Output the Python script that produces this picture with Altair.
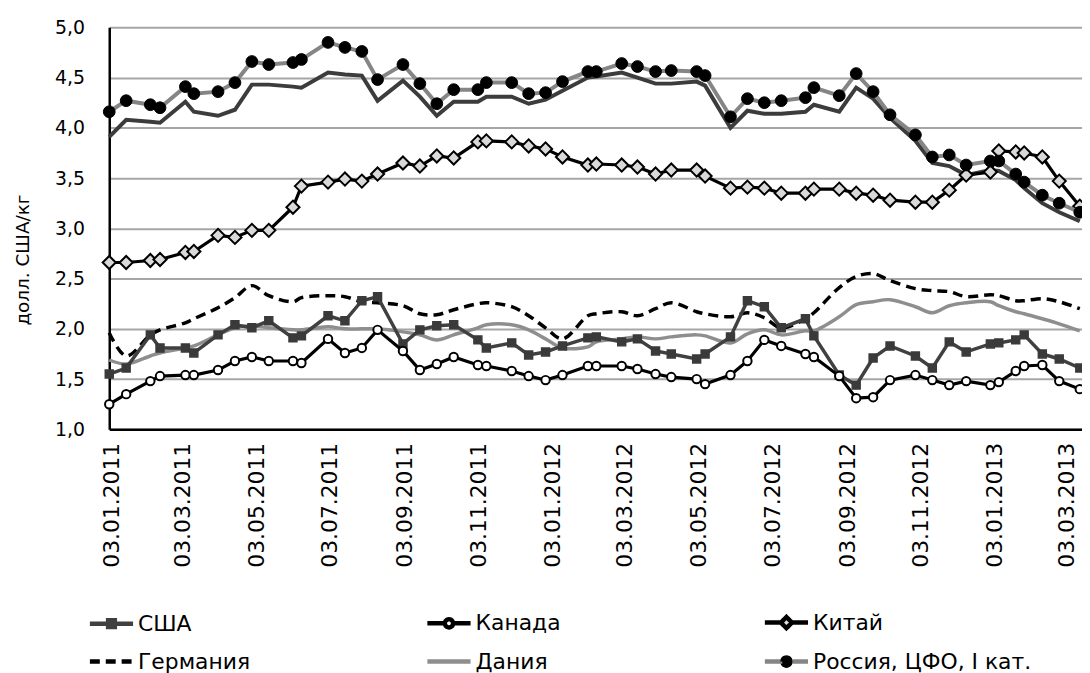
import altair as alt
import pandas as pd

# ---------------- data ----------------
dates = ["2011-01-03", "2011-01-17", "2011-02-06", "2011-02-14", "2011-03-07", "2011-03-14",
         "2011-04-03", "2011-04-17", "2011-05-01", "2011-05-15", "2011-06-04", "2011-06-11",
         "2011-07-03", "2011-07-17", "2011-07-31", "2011-08-13", "2011-09-03", "2011-09-17",
         "2011-10-01", "2011-10-15", "2011-11-04", "2011-11-11", "2011-12-02", "2011-12-16",
         "2011-12-30", "2012-01-13", "2012-02-03", "2012-02-10", "2012-03-02", "2012-03-15",
         "2012-03-30", "2012-04-12", "2012-05-03", "2012-05-10", "2012-05-31", "2012-06-14",
         "2012-06-28", "2012-07-12", "2012-08-01", "2012-08-08", "2012-08-29", "2012-09-12",
         "2012-09-26", "2012-10-10", "2012-10-31", "2012-11-14", "2012-11-28", "2012-12-12",
         "2013-01-01", "2013-01-08", "2013-01-22", "2013-01-29", "2013-02-13", "2013-02-27",
         "2013-03-16"]

usa = [1.55, 1.61, 1.94, 1.81, 1.81, 1.76, 1.94, 2.04, 2.01, 2.08, 1.91, 1.93, 2.13, 2.08, 2.28,
       2.32, 1.85, 1.99, 2.03, 2.04, 1.89, 1.81, 1.86, 1.74, 1.77, 1.83, 1.91, 1.92, 1.87, 1.90,
       1.78, 1.75, 1.70, 1.75, 1.92, 2.28, 2.22, 2.01, 2.10, 1.93, 1.54, 1.44, 1.71, 1.83, 1.73,
       1.61, 1.87, 1.77, 1.85, 1.86, 1.89, 1.94, 1.75, 1.70, 1.61]

canada = [1.25, 1.35, 1.48, 1.53, 1.54, 1.54, 1.59, 1.68, 1.72, 1.68, 1.68, 1.66, 1.90, 1.76, 1.81,
          1.99, 1.78, 1.59, 1.65, 1.72, 1.64, 1.63, 1.58, 1.53, 1.49, 1.54, 1.63, 1.63, 1.63, 1.60,
          1.55, 1.52, 1.50, 1.45, 1.54, 1.68, 1.89, 1.83, 1.75, 1.72, 1.53, 1.31, 1.32, 1.49, 1.54,
          1.49, 1.44, 1.48, 1.44, 1.47, 1.58, 1.63, 1.64, 1.48, 1.40]

china = [2.66, 2.66, 2.68, 2.69, 2.76, 2.77, 2.93, 2.91, 2.98, 2.98, 3.21, 3.42, 3.46, 3.49, 3.47,
         3.54, 3.65, 3.62, 3.72, 3.70, 3.86, 3.87, 3.86, 3.82, 3.79, 3.71, 3.63, 3.64, 3.63, 3.61,
         3.54, 3.58, 3.58, 3.52, 3.40, 3.41, 3.40, 3.35, 3.35, 3.39, 3.39, 3.35, 3.33, 3.28, 3.26,
         3.26, 3.38, 3.53, 3.56, 3.77, 3.76, 3.75, 3.71, 3.47, 3.22]

germany = [1.96, 1.73, 1.94, 1.99, 2.06, 2.10, 2.21, 2.31, 2.43, 2.33, 2.27, 2.31, 2.33, 2.32, 2.27,
           2.26, 2.23, 2.15, 2.14, 2.19, 2.25, 2.26, 2.22, 2.13, 2.01, 1.90, 2.13, 2.15, 2.17, 2.13,
           2.20, 2.26, 2.17, 2.15, 2.12, 2.16, 2.11, 2.01, 2.10, 2.16, 2.41, 2.52, 2.55, 2.48, 2.40,
           2.38, 2.37, 2.32, 2.34, 2.33, 2.28, 2.28, 2.30, 2.27, 2.20]

denmark = [1.69, 1.65, 1.73, 1.76, 1.81, 1.83, 1.94, 2.01, 2.03, 2.01, 1.99, 1.99, 2.02, 2.00, 2.00,
           2.00, 1.97, 1.94, 1.89, 1.94, 2.01, 2.04, 2.04, 1.99, 1.90, 1.81, 1.82, 1.87, 1.90, 1.92,
           1.90, 1.92, 1.94, 1.93, 1.86, 1.95, 1.99, 1.94, 1.98, 1.98, 2.12, 2.24, 2.27, 2.29, 2.22,
           2.16, 2.23, 2.26, 2.27, 2.23, 2.17, 2.15, 2.10, 2.05, 1.98]

russia_1 = [4.16, 4.27, 4.23, 4.20, 4.41, 4.34, 4.36, 4.45, 4.66, 4.63, 4.65, 4.68, 4.85, 4.80, 4.76,
            4.48, 4.63, 4.44, 4.24, 4.38, 4.38, 4.45, 4.45, 4.34, 4.35, 4.46, 4.56, 4.56, 4.64, 4.61,
            4.56, 4.57, 4.56, 4.52, 4.11, 4.29, 4.25, 4.27, 4.30, 4.40, 4.32, 4.54, 4.36, 4.13, 3.93,
            3.71, 3.73, 3.63, 3.67, 3.67, 3.54, 3.46, 3.33, 3.25, 3.16]

# dark line without markers (not named in the legend)
unlabeled = [3.91, 4.08, 4.06, 4.05, 4.26, 4.16, 4.12, 4.18, 4.43, 4.43, 4.41, 4.40, 4.55, 4.53, 4.52,
             4.27, 4.47, 4.31, 4.12, 4.26, 4.26, 4.31, 4.31, 4.24, 4.28, 4.37, 4.50, 4.51, 4.55, 4.50,
             4.44, 4.44, 4.46, 4.42, 4.00, 4.17, 4.14, 4.14, 4.16, 4.23, 4.16, 4.40, 4.29, 4.10, 3.87,
             3.65, 3.62, 3.53, 3.58, 3.57, 3.48, 3.40, 3.25, 3.16, 3.07]

names = ["США", "Канада", "Китай", "Германия", "Дания", "Россия, ЦФО, I кат."]
unlabeled_name = "без подписи"
y_ticks = [1.0, 1.5, 2.0, 2.5, 3.0, 3.5, 4.0, 4.5, 5.0]
x_tick_months = [(2011, 1), (2011, 3), (2011, 5), (2011, 7), (2011, 9), (2011, 11),
                 (2012, 1), (2012, 3), (2012, 5), (2012, 7), (2012, 9), (2012, 11),
                 (2013, 1), (2013, 3)]

# ---------------- styles ----------------
line_colors = ["#404040", "#000000", "#000000", "#000000", "#8e8e8e", "#858585"]
marker_fills = ["#404040", "#ffffff", "#e0e0e0", "transparent", "transparent", "#000000"]
# legend symbol = line + marker (unit = 7.5 px); the last dash leaves a gap around the dot
legend_shapes = [
    "M-1,0L4.8,0M1.45,-0.45L2.35,-0.45L2.35,0.45L1.45,0.45Z",
    "M-1,0L1.35,0M2.45,0L4.8,0M2.45,0A0.55,0.55,0,1,1,1.35,0A0.55,0.55,0,1,1,2.45,0Z",
    "M-1,0L1.15,0M2.65,0L4.8,0M1.9,-0.75L2.65,0L1.9,0.75L1.15,0Z",
    "M-1,0L4.8,0",
    "M-1,0L4.8,0",
    "M-1,0L1.05,0A0.85,0.85,0,1,1,2.75,0A0.85,0.85,0,1,1,1.05,0M2.75,0L4.8,0",
]
legend_dashes = [[1, 0], [1, 0], [1, 0], [10, 6], [1, 0], [15.4, 40.1, 300]]
FONT = "DejaVu Sans"

rows = []
for name, vals in zip(names + [unlabeled_name],
                      [usa, canada, china, germany, denmark, russia_1, unlabeled]):
    for d, v in zip(dates, vals):
        rows.append({"date": d, "series": name, "value": v})
df = pd.DataFrame(rows)

x_enc = alt.X(
    "date:T",
    scale=alt.Scale(type="utc",
                    domain=[alt.DateTime(year=2011, month=1, date=3, utc=True),
                            alt.DateTime(year=2013, month=3, date=17, hours=20, utc=True)]),
    axis=alt.Axis(
        values=[alt.DateTime(year=y, month=m, date=3, utc=True) for y, m in x_tick_months],
        labelExpr="utcFormat(datum.value, '%d.%m.%Y')",
        labelAngle=270, labelAlign="right", labelBaseline="middle",
        labelFont=FONT, labelFontSize=22, labelColor="#000000", labelPadding=13,
        labelOffset=2, labelOverlap=False,
        ticks=False, tickSize=0, grid=False,
        domainColor="#000000", domainWidth=2.5, title=None),
)
y_enc = alt.Y(
    "value:Q",
    scale=alt.Scale(domain=[1, 5], nice=False, zero=False),
    axis=alt.Axis(
        values=y_ticks,
        labelExpr="replace(format(datum.value, '.1f'), '.', ',')",
        labelFont=FONT, labelFontSize=19, labelColor="#000000", labelPadding=25,
        ticks=False, tickSize=0, grid=True, gridColor="#a6a6a6", gridWidth=2,
        domainColor="#000000", domainWidth=2.5,
        title="долл. США/кг", titleFont=FONT, titleFontSize=18.5, titleFontWeight="normal",
        titleColor="#000000", titleAngle=270, titleX=-77, titleY=234,
        titleAlign="center", titleBaseline="bottom"),
)

leg = alt.Legend(title=None, orient="none", legendX=-23, legendY=588, columns=3,
                 direction="horizontal", gridAlign="all", columnPadding=62, rowPadding=8,
                 symbolSize=225, symbolStrokeWidth=4.5,
                 labelFont=FONT, labelFontSize=22, labelColor="#000000",
                 labelOffset=30, labelLimit=500)

base = alt.Chart(df)

# invisible layer that only carries the legend scales (shape + fill + dash)
legend_layer = base.transform_filter("false").mark_point(
    filled=True, opacity=1, strokeWidth=4.5
).encode(
    x=x_enc, y=y_enc,
    shape=alt.Shape("series:N", scale=alt.Scale(domain=names, range=legend_shapes), legend=leg),
    fill=alt.Fill("series:N", scale=alt.Scale(domain=names, range=marker_fills), legend=leg),
    strokeDash=alt.StrokeDash("series:N", scale=alt.Scale(domain=names, range=legend_dashes),
                              legend=leg),
)

color_enc = alt.Color("series:N", scale=alt.Scale(domain=names, range=line_colors), legend=leg)


def series_line(name, width, **kw):
    return base.transform_filter(alt.datum.series == name).mark_line(
        strokeWidth=width, **kw).encode(x=x_enc, y=y_enc, color=color_enc)


unlabeled_line = base.transform_filter(
    alt.datum.series == unlabeled_name
).mark_line(color="#3c3c3c", strokeWidth=4).encode(x=x_enc, y=y_enc)

denmark_line = series_line("Дания", 3.5, interpolate="catmull-rom")
germany_line = series_line("Германия", 3.5, interpolate="catmull-rom", strokeDash=[10, 6])
us_line = series_line("США", 3.5)
ca_line = series_line("Канада", 3.2)
cn_line = series_line("Китай", 3.2)
ru_line = series_line("Россия, ЦФО, I кат.", 4)


def markers(name, shape, fill, stroke, size, sw):
    return base.transform_filter(alt.datum.series == name).mark_point(
        shape=shape, filled=True, fill=fill, stroke=stroke, size=size,
        strokeWidth=sw, opacity=1
    ).encode(x=x_enc, y=y_enc)


us_pts = markers("США", "square", "#3a3a3a", "#3a3a3a", 64, 1.5)
ca_pts = markers("Канада", "circle", "#ffffff", "#000000", 72, 2)
cn_pts = markers("Китай", "diamond", "#d9d9d9", "#000000", 175, 2)
ru_pts = markers("Россия, ЦФО, I кат.", "circle", "#000000", "#000000", 140, 1)

chart = alt.layer(
    legend_layer, unlabeled_line, denmark_line, germany_line,
    us_line, us_pts, ca_line, ca_pts, cn_line, cn_pts, ru_line, ru_pts
).properties(
    width=980, height=405,
    autosize=alt.AutoSizeParams(type="none"),
    padding={"left": 102, "top": 17, "right": 0, "bottom": 243},
).configure_view(stroke=None)

chart.save("out.html", embed_options={"renderer": "svg", "actions": False})
